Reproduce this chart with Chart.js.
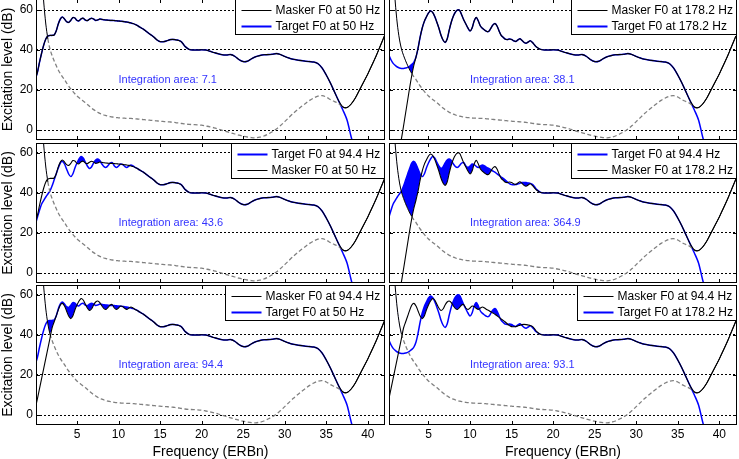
<!DOCTYPE html>
<html>
<head>
<meta charset="utf-8">
<title>Excitation patterns</title>
<script src="https://cdn.jsdelivr.net/npm/chart.js@4.4.0/dist/chart.umd.min.js"></script>
<style>
  body { margin: 0; background: #fff; }
  #wrap { position: relative; width: 739px; height: 459px; overflow: hidden; }
  #wrap canvas { position: absolute; }
</style>
</head>
<body>
<div id="wrap"></div>
<script>
// ERBn grid: quarter steps up to 18, half steps above
const erb = [];
for (let i = 0; i <= 72; i++) erb.push(i / 4);
for (let i = 37; i <= 84; i++) erb.push(i / 2);

const xTicks = [5, 10, 15, 20, 25, 30, 35, 40];
const yTicks = [0, 20, 40, 60];

// excitation (dB), 0..18 ERBn
const target50Head = [25.5, 29, 34, 38.5, 42.5, 45.5, 47, 47.3, 47.3, 47.5,
    49.5, 53, 55.5, 56.5, 55.5, 54.2, 53.8, 54.8, 56.2, 56,
    54.8, 54.6, 55.6, 55.9, 55, 54.7, 55.4, 55.9, 55.5, 54.8,
    55, 55.5, 55.3, 55.1, 55, 54.9, 54.8, 54.8, 54.7, 54.6,
    54.5, 54.4, 54.3, 54.1, 54, 53.8, 53.5, 53.2, 52.8, 52.3,
    51.6, 51, 50.4, 49.6, 48.8, 48, 47.3, 46.5, 45.5, 44.7,
    44.2, 44.1, 44.2, 44.5, 44.9, 45.2, 45.3, 45.2, 45, 44.8,
    44.3, 43.2, 41.8];

// 0..12.25 ERBn, same as the 50 Hz pattern above that
const target94Head = [24.5, 28, 31.5, 34.5, 36.3, 38, 39.5, 41, 43.5, 46.5,
    49.5, 52.5, 55, 55.8, 54.5, 52, 49.5, 48.2, 49.5, 52.5,
    55, 57, 58.2, 57.5, 55.5, 53.5, 52.3, 53, 55, 56.5,
    57, 56.2, 54.5, 53.2, 52.8, 53.8, 55, 55.2, 53.5, 52.8,
    53.5, 54.5, 54.2, 53.3, 52.8, 53.5, 54, 53.5, 52.8, 52.3];

const target178Head = [39, 37.3, 35, 33.3, 32.3, 31.5, 31, 30.8, 30.8, 31,
    31.3, 32, 32.8, 34, 36.5, 41, 46.5, 51, 54.3, 56.5,
    58.5, 59.5, 58.8, 56.8, 54, 51, 47.5, 45, 43.8, 45.5,
    50, 54, 57, 59, 60, 59.8, 57.5, 55, 53, 51,
    49.5, 51, 54.5, 56.3, 54.5, 52, 50.8, 50, 49.3, 49.3,
    50.8, 52.5, 53.2, 52, 49.5, 47.3, 46.3, 45.4, 45.2, 45.5,
    45.3, 44.6, 44.3, 45, 45.6, 44.8, 43.8, 43.4, 44, 44.6,
    43.8, 42.6, 41.5];

// low end of the masker patterns where they leave the target ones
const masker94Low = [3.5, 8.3, 13.3, 18.3, 23.3, 28.3, 33.3, 38.3];
const masker178Low = [-45, -39, -33, -27, -21.5, -16, -10, -4.3, 2, 8.5, 15, 21.5, 27.5, 32.5];

// 18.5..42 ERBn, shared by every pattern
const commonTail = [40.3, 40, 40, 40.1, 40, 39.4, 38.7, 38.1, 37.6, 37.5,
    37.7, 36.8, 35.2, 34.2, 34.4, 35.6, 36.6, 37.2, 37.6, 37.7,
    37.9, 38.2, 37.7, 36.8, 36, 35.4, 35, 34.7, 34.4, 34.2,
    34, 33.2, 31, 27.5, 23.5, 19, 14.5, 10, 5, -3.5,
    -11, -18, -25, -32, -39, -46, -53, -60];
// 37..42 ERBn, the rising branch of the masker line
const maskerRise = [11.5, 11.2, 13, 16, 20, 24, 28, 32.5, 37, 42, 47];

// threshold curve, 0..18 then 18.5..36.5 ERBn
const thresholdHead = [135, 115, 96, 79, 64, 53, 45.5, 40.5, 37.3, 34.6,
    32.2, 30, 28.2, 26.6, 25.2, 23.5, 22, 20.6, 19.3, 18.1,
    17, 16.1, 15.3, 14.5, 13.7, 12.8, 11.9, 11, 10.2, 9.5,
    8.9, 8.3, 7.9, 7.5, 7.2, 6.9, 6.7, 6.5, 6.3, 6.2,
    6.1, 6, 5.9, 5.9, 5.8, 5.8, 5.8, 5.7, 5.6, 5.5,
    5.4, 5.3, 5.2, 5.1, 5, 4.9, 4.8, 4.7, 4.6, 4.5,
    4.4, 4.3, 4.2, 4.2, 4.1, 4, 3.9, 3.8, 3.6, 3.5,
    3.3, 3.2, 3];
const thresholdFall = [2.8, 2.7, 2.6, 2.4, 2, 1.6, 1.1, 0.5, -0.2, -0.8,
    -1.4, -2, -2.6, -3.1, -3.5, -3.8, -3.9, -3.6, -3, -2,
    -0.9, 0.5, 2.2, 4.2, 6.2, 8.2, 10, 11.7, 13.3, 14.8,
    16, 16.9, 17.2, 16.5, 15.2, 14.2, 13.2];

const areas = [7.1, 38.1, 43.6, 364.9, 94.4, 93.1];

// full series on the erb grid
const maskerTail = commonTail.slice(0, 37).concat(maskerRise);
const targets = {
    '50': target50Head.concat(commonTail),
    '94.4': target94Head.concat(target50Head.slice(target94Head.length), commonTail),
    '178.2': target178Head.concat(commonTail)
};
const maskers = {
    '50': target50Head.concat(maskerTail),
    '94.4': masker94Low.concat(target94Head.slice(masker94Low.length), target50Head.slice(target94Head.length), maskerTail),
    '178.2': masker178Low.concat(target178Head.slice(masker178Low.length), maskerTail)
};
const threshold = thresholdHead.concat(thresholdFall, maskerRise);

const panels = [
    { target: '50', masker: '50', targetFirst: false },
    { target: '178.2', masker: '178.2', targetFirst: false },
    { target: '94.4', masker: '50', targetFirst: true },
    { target: '94.4', masker: '178.2', targetFirst: true },
    { target: '50', masker: '94.4', targetFirst: false },
    { target: '178.2', masker: '94.4', targetFirst: false }
];

const rows = [
    { top: -1, height: 141, yMax: 65.5, xHeight: 0 },
    { top: 143, height: 140, yMax: 65, xHeight: 0 },
    { top: 285, height: 174, yMax: 65, xHeight: 34 }
];
const cols = [
    { left: 0, width: 387, xMin: 0.07, xMax: 42.07, yWidth: 36 },
    { left: 387, width: 352, xMin: 0.25, xMax: 42.13, yWidth: 2 }
];

const FONT = 'Arial, "Liberation Sans", sans-serif';
Chart.defaults.font.family = FONT;
Chart.defaults.color = '#000';

const toPoints = ys => ys.map((y, i) => ({ x: erb[i], y: y }));

function decorPlugin(panel, area, leftCol, bottomRow) {
    return {
        id: 'decor',
        afterDatasetsDraw(chart) {
            const { ctx, chartArea: a } = chart;
            const x = chart.scales.x, y = chart.scales.y;
            ctx.save();
            ctx.strokeStyle = '#000';
            ctx.lineWidth = 1;
            ctx.beginPath();
            xTicks.forEach(v => {
                const px = Math.round(x.getPixelForValue(v)) + 0.5;
                ctx.moveTo(px, a.bottom); ctx.lineTo(px, a.bottom - 4);
                ctx.moveTo(px, a.top); ctx.lineTo(px, a.top + 4);
            });
            yTicks.forEach(v => {
                const py = Math.round(y.getPixelForValue(v)) + 0.5;
                ctx.moveTo(a.left, py); ctx.lineTo(a.left + 4, py);
                ctx.moveTo(a.right, py); ctx.lineTo(a.right - 4, py);
            });
            ctx.stroke();
            ctx.strokeRect(a.left + 0.5, a.top + 0.5, a.right - a.left - 1, a.bottom - a.top - 1);

            ctx.fillStyle = 'rgb(51,51,255)';
            ctx.font = '11px ' + FONT;
            ctx.textBaseline = 'middle';
            ctx.textAlign = 'left';
            ctx.fillText('Integration area: ' + area, x.getPixelForValue(10), y.getPixelForValue(25));

            // axis texts
            ctx.fillStyle = '#000';
            if (leftCol) {
                ctx.font = '12px ' + FONT;
                ctx.textAlign = 'right';
                yTicks.forEach(v => ctx.fillText(String(v), a.left - 3, y.getPixelForValue(v)));
                ctx.save();
                ctx.translate(8, (a.top + a.bottom) / 2);
                ctx.rotate(-Math.PI / 2);
                ctx.font = '14px ' + FONT;
                ctx.textAlign = 'center';
                ctx.fillText('Excitation level (dB)', 0, 0);
                ctx.restore();
            }
            if (bottomRow) {
                ctx.font = '12px ' + FONT;
                ctx.textAlign = 'center';
                xTicks.forEach(v => ctx.fillText(String(v), x.getPixelForValue(v), a.bottom + 10));
                ctx.font = '14px ' + FONT;
                ctx.fillText('Frequency (ERBn)', (a.left + a.right) / 2, a.bottom + 27);
            }

            // legend
            const entries = [
                { text: 'Masker F0 at ' + panel.masker + ' Hz', color: '#000', width: 1 },
                { text: 'Target F0 at ' + panel.target + ' Hz', color: '#0000ff', width: 2 }
            ];
            if (panel.targetFirst) entries.reverse();
            ctx.font = '12px ' + FONT;
            ctx.textAlign = 'left';
            const w = Math.max(...entries.map(e => ctx.measureText(e.text).width));
            const bx = Math.round(a.right - (40 + w + 5)) + 0.5;
            const by = a.top + 0.5;
            ctx.fillStyle = '#fff';
            ctx.fillRect(bx, by, a.right - bx, 35);
            ctx.strokeStyle = '#000';
            ctx.lineWidth = 1;
            ctx.strokeRect(bx, by, a.right - 0.5 - bx, 35);
            entries.forEach((e, k) => {
                const ly = Math.round(a.top + 11 + k * 16) + 0.5;
                ctx.strokeStyle = e.color;
                ctx.lineWidth = e.width;
                ctx.beginPath();
                ctx.moveTo(bx + 6, ly);
                ctx.lineTo(bx + 36, ly);
                ctx.stroke();
                ctx.fillStyle = '#000';
                ctx.fillText(e.text, bx + 40, ly);
            });
            ctx.restore();
        }
    };
}

const wrap = document.getElementById('wrap');

panels.forEach((panel, i) => {
    const row = rows[Math.floor(i / 2)];
    const col = cols[i % 2];
    const bottomRow = row.xHeight > 0;
    const leftCol = i % 2 === 0;

    const canvas = document.createElement('canvas');
    canvas.width = col.width;
    canvas.height = row.height;
    canvas.style.left = col.left + 'px';
    canvas.style.top = row.top + 'px';
    wrap.appendChild(canvas);

    const target = targets[panel.target];
    const masker = maskers[panel.masker];
    const floor = erb.map((_, k) => Math.max(masker[k], threshold[k]));
    const over = c => threshold[c.p0DataIndex] + threshold[c.p1DataIndex] >= masker[c.p0DataIndex] + masker[c.p1DataIndex];

    new Chart(canvas, {
        type: 'line',
        data: {
            datasets: [
                {
                    data: toPoints(masker),
                    borderColor: '#000',
                    borderWidth: 1.1,
                    pointRadius: 0,
                    tension: 0.3
                },
                {
                    data: toPoints(threshold),
                    borderColor: '#808080',
                    borderWidth: 1.3,
                    pointRadius: 0,
                    tension: 0.3,
                    segment: {
                        borderColor: c => over(c) ? '#000' : '#808080',
                        borderDash: c => over(c) ? [] : [4, 2.5],
                        borderWidth: c => over(c) ? 1 : 1.3
                    }
                },
                {
                    data: toPoints(target),
                    borderColor: '#0000ff',
                    borderWidth: 1.5,
                    pointRadius: 0,
                    tension: 0.3,
                    fill: { target: 3, above: '#0000ff', below: 'rgba(0,0,0,0)' }
                },
                {
                    data: toPoints(floor),
                    borderColor: 'rgba(0,0,0,0)',
                    borderWidth: 1,
                    pointRadius: 0,
                    tension: 0.3
                }
            ]
        },
        options: {
            responsive: false,
            animation: false,
            devicePixelRatio: 1,
            events: [],
            layout: { autoPadding: false, padding: { left: 0, right: 2, top: 0, bottom: 0 } },
            plugins: { legend: { display: false }, tooltip: { enabled: false } },
            scales: {
                x: {
                    type: 'linear',
                    min: col.xMin,
                    max: col.xMax,
                    display: bottomRow,
                    afterBuildTicks: s => { s.ticks = xTicks.map(v => ({ value: v })); },
                    afterFit: s => { s.height = row.xHeight; },
                    grid: { display: false },
                    border: { display: false },
                    ticks: { display: false }
                },
                y: {
                    min: -5,
                    max: row.yMax,
                    afterBuildTicks: s => { s.ticks = yTicks.map(v => ({ value: v })); },
                    afterFit: s => { s.width = col.yWidth; },
                    grid: { color: '#000', lineWidth: 1, drawTicks: false },
                    border: { display: false, dash: [2, 2] },
                    ticks: { display: false }
                }
            }
        },
        plugins: [decorPlugin(panel, areas[i], leftCol, bottomRow)]
    });
});
</script>
</body>
</html>
